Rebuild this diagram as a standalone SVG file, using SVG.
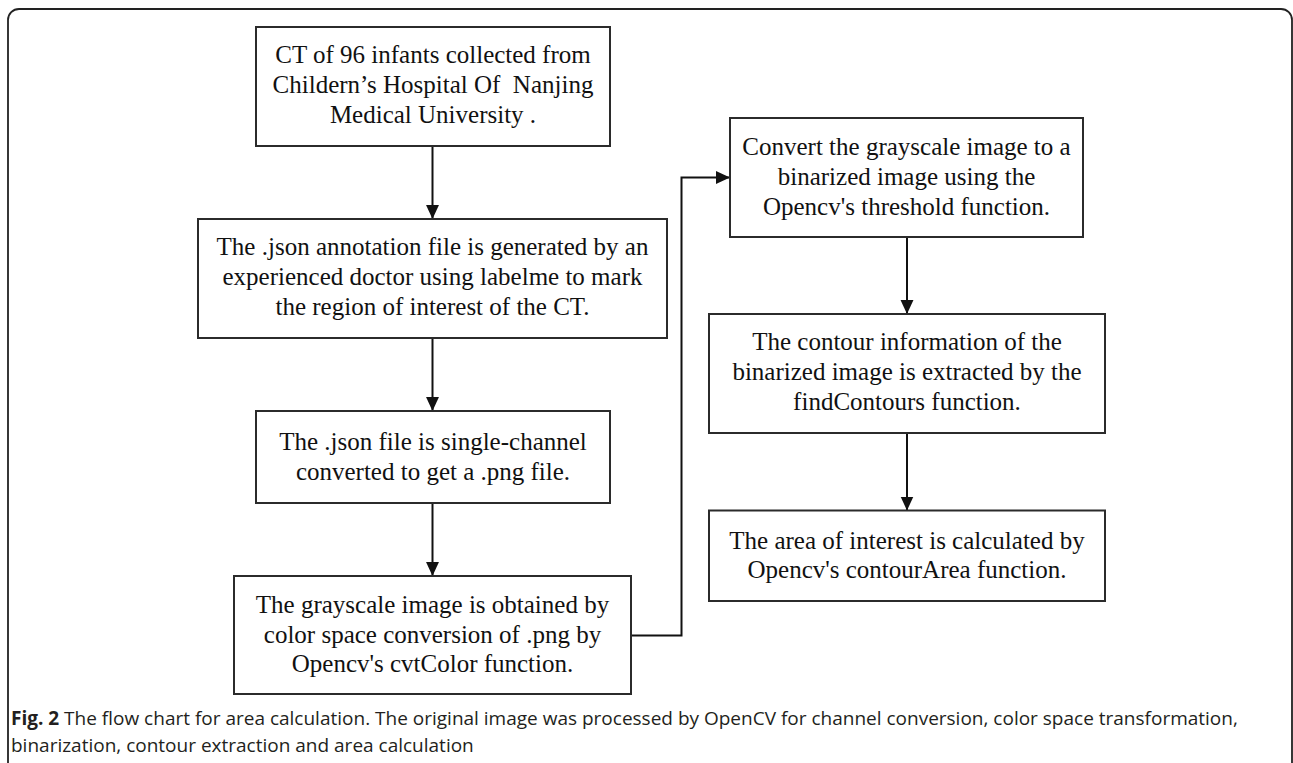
<svg xmlns="http://www.w3.org/2000/svg" width="1293" height="763" viewBox="0 0 1293 763">
<defs>
<style>
.box{fill:#fff;stroke:#2b2b2b;stroke-width:2}
.t{font-family:"Liberation Serif","Times New Roman",serif;font-size:25px;fill:#111;text-anchor:middle}
.c{stroke:#111;stroke-width:2;fill:none}
.cap{font-family:"Open Sans","Liberation Sans",sans-serif;font-size:19px;fill:#231f20}
</style>
<marker id="ah" markerUnits="userSpaceOnUse" markerWidth="14" markerHeight="14" viewBox="0 0 13 12" refX="13" refY="6" orient="auto">
<path d="M0,0 L13,6 L0,12 z" fill="#111"/>
</marker>
</defs>
<rect width="1293" height="763" fill="#fff"/>
<rect x="8" y="9" width="1284" height="800" rx="11" ry="11" fill="none" stroke="#222" stroke-width="1.8"/>

<g id="connectors">
<line class="c" x1="432.5" y1="146" x2="432.5" y2="219" marker-end="url(#ah)"/>
<line class="c" x1="432.5" y1="338" x2="432.5" y2="411" marker-end="url(#ah)"/>
<line class="c" x1="432.5" y1="503" x2="432.5" y2="576" marker-end="url(#ah)"/>
<polyline class="c" points="631,635.5 681.5,635.5 681.5,177.5 730,177.5" marker-end="url(#ah)"/>
<line class="c" x1="907" y1="237" x2="907" y2="314" marker-end="url(#ah)"/>
<line class="c" x1="907" y1="433" x2="907" y2="510.5" marker-end="url(#ah)"/>
</g>

<g id="n1">
<rect class="box" x="256" y="27" width="354" height="119"/>
<text class="t" x="433" y="63">CT of 96 infants collected from</text>
<text class="t" x="433" y="93">Childern’s Hospital Of&#160; Nanjing</text>
<text class="t" x="433" y="123">Medical University .</text>
</g>
<g id="n2">
<rect class="box" x="198" y="219" width="469" height="119"/>
<text class="t" x="432.5" y="255">The .json annotation file is generated by an</text>
<text class="t" x="432.5" y="285">experienced doctor using labelme to mark</text>
<text class="t" x="432.5" y="315">the region of interest of the CT.</text>
</g>
<g id="n3">
<rect class="box" x="256" y="411" width="354" height="92"/>
<text class="t" x="433" y="450">The .json file is single-channel</text>
<text class="t" x="433" y="480">converted to get a .png file.</text>
</g>
<g id="n4">
<rect class="box" x="234" y="576" width="397" height="118"/>
<text class="t" x="432.5" y="613">The grayscale image is obtained by</text>
<text class="t" x="432.5" y="643">color space conversion of .png by</text>
<text class="t" x="432.5" y="672">Opencv's cvtColor function.</text>
</g>
<g id="n5">
<rect class="box" x="730" y="118" width="353" height="119"/>
<text class="t" x="906.5" y="155">Convert the grayscale image to a</text>
<text class="t" x="906.5" y="185">binarized image using the</text>
<text class="t" x="906.5" y="215">Opencv's threshold function.</text>
</g>
<g id="n6">
<rect class="box" x="709" y="314" width="396" height="119"/>
<text class="t" x="907" y="350">The contour information of the</text>
<text class="t" x="907" y="380">binarized image is extracted by the</text>
<text class="t" x="907" y="410">findContours function.</text>
</g>
<g id="n7">
<rect class="box" x="709" y="510.5" width="396" height="90.5"/>
<text class="t" x="907" y="549">The area of interest is calculated by</text>
<text class="t" x="907" y="578">Opencv's contourArea function.</text>
</g>

<g id="caption">
<text class="cap" x="11" y="725"><tspan font-weight="bold">Fig. 2</tspan> The flow chart for area calculation. The original image was processed by OpenCV for channel conversion, color space transformation,</text>
<text class="cap" x="11" y="752">binarization, contour extraction and area calculation</text>
</g>
</svg>
